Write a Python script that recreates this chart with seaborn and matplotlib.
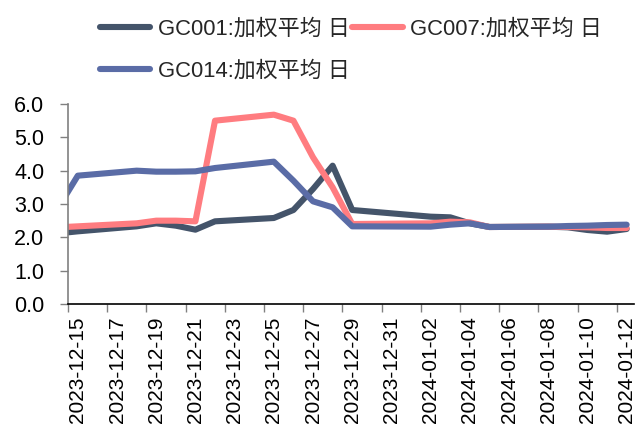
import matplotlib
matplotlib.use("Agg")
import matplotlib.pyplot as plt
import numpy as np
import pandas as pd
import seaborn as sns

# Trading days (12-14 lies just left of the visible range)
dates = ["2023-12-14", "2023-12-15", "2023-12-18", "2023-12-19", "2023-12-20",
         "2023-12-21", "2023-12-22", "2023-12-25", "2023-12-26", "2023-12-27",
         "2023-12-28", "2023-12-29", "2024-01-02", "2024-01-03", "2024-01-04",
         "2024-01-05", "2024-01-08", "2024-01-09", "2024-01-10", "2024-01-11",
         "2024-01-12"]

gc001 = [2.12, 2.18, 2.33, 2.42, 2.35, 2.23, 2.48, 2.58, 2.82, 3.45,
         4.15, 2.82, 2.62, 2.60, 2.42, 2.31, 2.32, 2.30, 2.22, 2.17, 2.25]
gc007 = [2.30, 2.33, 2.42, 2.50, 2.50, 2.48, 5.50, 5.68, 5.50, 4.40,
         3.50, 2.40, 2.42, 2.47, 2.45, 2.31, 2.32, 2.31, 2.30, 2.28, 2.28]
gc014 = [2.89, 3.85, 4.00, 3.97, 3.97, 3.98, 4.08, 4.27, 3.70, 3.08,
         2.90, 2.33, 2.32, 2.38, 2.42, 2.31, 2.32, 2.34, 2.35, 2.37, 2.38]

series_names = ["GC001:加权平均 日", "GC007:加权平均 日", "GC014:加权平均 日"]
colors = ["#44546A", "#FF7C80", "#5A6CA6"]

tick_dates = ["2023-12-15", "2023-12-17", "2023-12-19", "2023-12-21", "2023-12-23",
              "2023-12-25", "2023-12-27", "2023-12-29", "2023-12-31", "2024-01-02",
              "2024-01-04", "2024-01-06", "2024-01-08", "2024-01-10", "2024-01-12"]
y_ticks = [0, 1, 2, 3, 4, 5, 6]

sns.set_style("white")
plt.rcParams["font.family"] = ["Liberation Sans", "Noto Sans CJK SC"]
plt.rcParams["font.size"] = 15

# each value sits in the middle of its day band
day_mid = pd.to_datetime(dates) + pd.Timedelta(hours=12)
df = pd.DataFrame({
    "date": np.tile(day_mid, 3),
    "value": gc001 + gc007 + gc014,
    "series": np.repeat(series_names, len(dates)),
})

fig = plt.figure(figsize=(6.41, 4.28), dpi=100)
ax = fig.add_axes([68 / 641, 1 - 304 / 428, (634 - 68) / 641, 200 / 428])

sns.lineplot(data=df, x="date", y="value", hue="series", hue_order=series_names,
             palette=colors, linewidth=4.4, ax=ax, legend=False,
             solid_capstyle="round", solid_joinstyle="round")

x0 = pd.Timestamp("2023-12-15")
ax.set_xlim(x0, pd.Timestamp("2024-01-12") + pd.Timedelta(hours=21))
ax.set_ylim(0, 6)
ax.set_yticks(y_ticks)
ax.set_yticklabels([f"{v:.1f}" for v in y_ticks])

# ticks at day boundaries, labels centered in day bands
tks = pd.to_datetime(tick_dates)
ax.set_xticks(tks)
ax.set_xticklabels([])
ax.set_xticks(tks + pd.Timedelta(hours=12), minor=True)
ax.set_xticklabels(tick_dates, minor=True, rotation=90, va="top", ha="center")
ax.tick_params(axis="x", which="minor", length=0, pad=9, labelsize=15, colors="black")
ax.tick_params(axis="x", which="major", length=6, width=1, color="#808080", direction="out")
ax.tick_params(axis="y", length=6, width=1, color="#808080", direction="out",
               pad=11, labelsize=15.5, labelcolor="black")
ax.xaxis.set_tick_params(bottom=True)
ax.yaxis.set_tick_params(left=True)

ax.set_xlabel("")
ax.set_ylabel("")
for s in ["top", "right"]:
    ax.spines[s].set_visible(False)
ax.spines["left"].set_color("#808080")
ax.spines["left"].set_linewidth(1.2)
ax.spines["bottom"].set_color("#000000")
ax.spines["bottom"].set_linewidth(1.2)

lines = ax.get_lines()[:3]
order = [0, 2, 1]
fig.legend([lines[i] for i in order], [series_names[i] for i in order],
           loc="upper left", bbox_to_anchor=(89 / 641, 1 - 8 / 428),
           bbox_transform=fig.transFigure, ncol=2, frameon=False,
           borderpad=0, handlelength=2.3, handletextpad=0.35,
           columnspacing=0.1, labelspacing=0.95, fontsize=15.8)

fig.savefig("out.png", dpi=100)
